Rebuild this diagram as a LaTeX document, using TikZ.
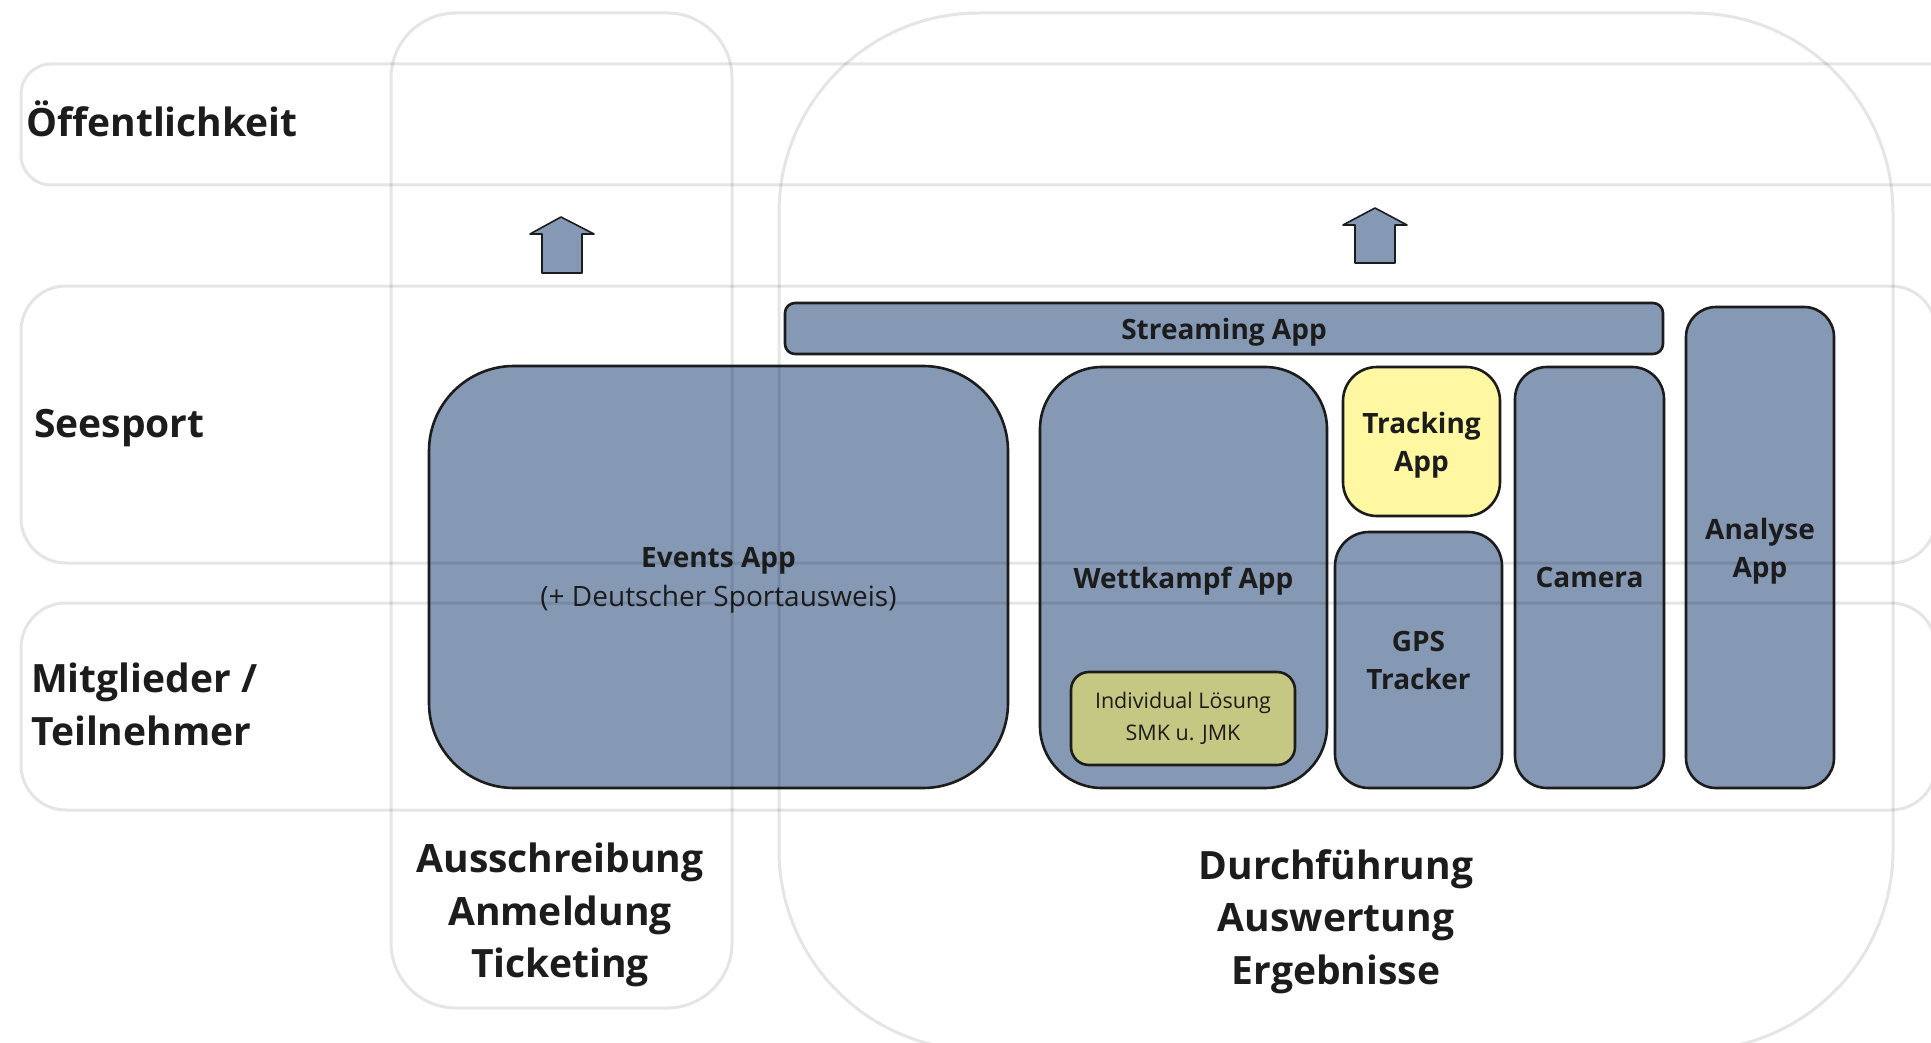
\documentclass[tikz,border=0pt]{standalone}
\usepackage{fontspec}
\setmainfont{Open Sans}
\definecolor{appblue}{HTML}{8599B5}
\definecolor{trackyellow}{HTML}{FFF7A1}
\definecolor{olivebox}{HTML}{C5C882}
\definecolor{ink}{HTML}{1C1C1C}
\begin{document}
\begin{tikzpicture}[x=1pt,y=-1pt,
  frame/.style={draw=black, draw opacity=0.1, line width=3pt},
  appbase/.style={draw=ink, line width=2.6pt, fill=appblue, inner sep=0pt, align=center,
    text=ink, font=\fontsize{28}{38}\selectfont\bfseries},
  app/.style={appbase, text depth=0pt},
  head/.style={inner sep=0pt, text=ink, font=\fontsize{39}{53}\selectfont\bfseries},
  phase/.style={inner sep=0pt, align=center, text=ink, font=\fontsize{39}{52.5}\selectfont\bfseries},
  uparrow/.style={draw=ink, line width=1.6pt, fill=appblue, line join=round}
]
\useasboundingbox (0,0) rectangle (1931,1043);
\fill[white] (0,0) rectangle (1931,1043);

% application boxes
\node[app, minimum width=878, minimum height=51, rounded corners=10pt] (streaming) at (1224,328.5) {Streaming App};
\node[app, minimum width=579, minimum height=422, rounded corners=85pt] (events) at (718.5,577)
  {Events App\\[1pt]{\mdseries\fontsize{28}{38}\selectfont (+ Deutscher Sportausweis)}};
\node[app, minimum width=287, minimum height=421, rounded corners=62pt] (wettkampf) at (1183.5,577.5) {Wettkampf App};
\node[app, fill=trackyellow, minimum width=157, minimum height=149, rounded corners=34pt] (tracking) at (1421.5,441.5) {Tracking\\App};
\node[app, minimum width=167, minimum height=256, rounded corners=34pt] (gps) at (1418.5,660) {GPS\\Tracker};
\node[app, minimum width=149, minimum height=421, rounded corners=32pt] (camera) at (1589.5,577.5) {Camera};
\node[app, minimum width=148, minimum height=481, rounded corners=30pt] (analyse) at (1760,547.5) {Analyse\\App};
\node[appbase, fill=olivebox, minimum width=224, minimum height=93, rounded corners=18pt,
  font=\fontsize{21.5}{32}\selectfont] (individual) at (1183,718.5) {Individual Lösung\\SMK u. JMK};

% upward block arrows
\draw[uparrow] (542,273) -- (542,234) -- (530,234) -- (561,217) -- (594,234) -- (582,234) -- (582,273) -- cycle;
\draw[uparrow] (1355,263) -- (1355,225) -- (1343,225) -- (1375,208) -- (1407,225) -- (1395,225) -- (1395,263) -- cycle;

% swimlane frames (rows and phases), drawn over the boxes
\draw[frame, rounded corners=30pt] (21,64) rectangle (1990,185);
\draw[frame, rounded corners=45pt] (21,286) rectangle (1936,563);
\draw[frame, rounded corners=45pt] (21,603) rectangle (1936,810);
\draw[frame, rounded corners=65pt] (391,13) rectangle (732,1008);
\draw[frame, rounded corners=200pt] (779,13) rectangle (1893,1050);

% row labels
\node[head, anchor=base west] (public) at (26,137) {Öffentlichkeit};
\node[head, anchor=base west] (seesport) at (34,437) {Seesport};
\node[head, align=left, anchor=west] (members) at (31,704) {Mitglieder /\\Teilnehmer};

% phase labels
\node[phase] (prep) at (560,915) {Ausschreibung\\Anmeldung\\Ticketing};
\node[phase] (exec) at (1336,921.5) {Durchführung\\Auswertung\\Ergebnisse};
\end{tikzpicture}
\end{document}
